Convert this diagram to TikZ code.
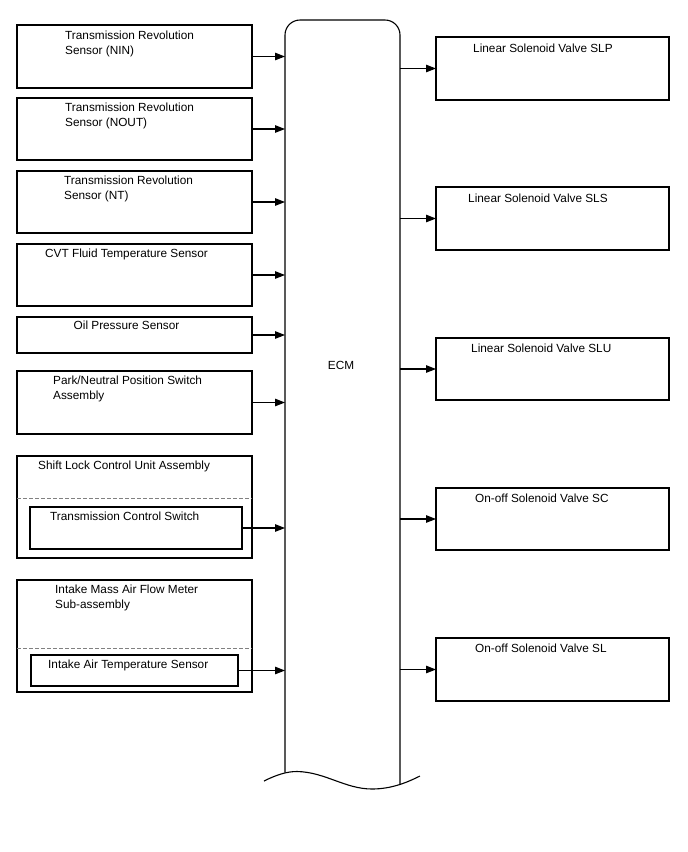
\documentclass[tikz,border=0pt]{standalone}
\usepackage{fontspec}
\setmainfont{Liberation Sans}
\usetikzlibrary{arrows.meta,positioning}

\begin{document}
\begin{tikzpicture}[x=1pt,y=-1pt,
  font=\fontsize{11.8}{15}\selectfont,
  box/.style={draw,line width=1.1pt,anchor=north west,inner sep=0,outer sep=0},
  lbl/.style={anchor=base west,inner sep=0,align=left},
  sep/.style={draw=gray,line width=0.9pt,dash pattern=on 4pt off 2pt},
  ar/.style={-{Triangle[length=10pt,width=7.5pt]},line width=1.1pt}
]
\useasboundingbox (0,0) rectangle (688,852);

% ECM
\coordinate (ecmL) at (285,400);
\coordinate (ecmR) at (400,400);
\draw[line width=1.1pt,rounded corners=15] (285,772.7) -- (285,20) -- (400,20) -- (400,784);
\draw[line width=1.1pt] (264,781) .. controls (278,774) and (288,771.5) .. (297,771.5)
  .. controls (325,772) and (345,789) .. (372,789) .. controls (392,789) and (408,782) .. (420,776);
\node[inner sep=0,anchor=base] (ecm) at (341,369) {ECM};

% inputs
\node[box,minimum width=235,minimum height=63] (nin) at (17,25) {};
\node[lbl] (nin-t) at (65,54) {Transmission Revolution\\Sensor (NIN)};
\node[box,minimum width=235,minimum height=62] (nout) at (17,98) {};
\node[lbl] (nout-t) at (65,126.5) {Transmission Revolution\\Sensor (NOUT)};
\node[box,minimum width=235,minimum height=62] (nt) at (17,171) {};
\node[lbl] (nt-t) at (64,199.5) {Transmission Revolution\\Sensor (NT)};
\node[box,minimum width=235,minimum height=62] (cvt) at (17,244) {};
\node[lbl] (cvt-t) at (45,257.3) {CVT Fluid Temperature Sensor};
\node[box,minimum width=235,minimum height=36] (oil) at (17,317) {};
\node[lbl] (oil-t) at (73.5,329.3) {Oil Pressure Sensor};
\node[box,minimum width=235,minimum height=63] (pnp) at (17,371) {};
\node[lbl] (pnp-t) at (53,399.5) {Park/Neutral Position Switch\\Assembly};

\node[box,minimum width=235,minimum height=102] (slk) at (17,456) {};
\node[lbl] (slk-t) at (38,469.5) {Shift Lock Control Unit Assembly};
\draw[sep] (slk.west |- 0,498) -- (slk.east |- 0,498);
\node[box,minimum width=212,minimum height=42] (tcs) at (30,507) {};
\node[lbl] (tcs-t) at (50,520) {Transmission Control Switch};

\node[box,minimum width=235,minimum height=112] (maf) at (17,580) {};
\node[lbl] (maf-t) at (55,608.5) {Intake Mass Air Flow Meter\\Sub-assembly};
\draw[sep] (maf.west |- 0,648) -- (maf.east |- 0,648);
\node[box,minimum width=207,minimum height=31] (iat) at (31,655) {};
\node[lbl] (iat-t) at (48,668) {Intake Air Temperature Sensor};

% outputs
\node[box,minimum width=233,minimum height=63] (slp) at (436,37) {};
\node[lbl] (slp-t) at (473,52) {Linear Solenoid Valve SLP};
\node[box,minimum width=233,minimum height=63] (sls) at (436,187) {};
\node[lbl] (sls-t) at (468,202) {Linear Solenoid Valve SLS};
\node[box,minimum width=233,minimum height=62] (slu) at (436,338) {};
\node[lbl] (slu-t) at (471,352) {Linear Solenoid Valve SLU};
\node[box,minimum width=233,minimum height=62] (sc) at (436,488) {};
\node[lbl] (sc-t) at (475,502) {On-off Solenoid Valve SC};
\node[box,minimum width=233,minimum height=63] (sl) at (436,638) {};
\node[lbl] (sl-t) at (475,652) {On-off Solenoid Valve SL};

\foreach \n in {nin,nout,nt,cvt,oil,pnp,tcs,iat}
  \draw[ar] (\n.east) -- (\n.east -| ecmL);
\foreach \n in {slp,sls,slu,sc,sl}
  \draw[ar] (\n.west -| ecmR) -- (\n.west);
\end{tikzpicture}
\end{document}
